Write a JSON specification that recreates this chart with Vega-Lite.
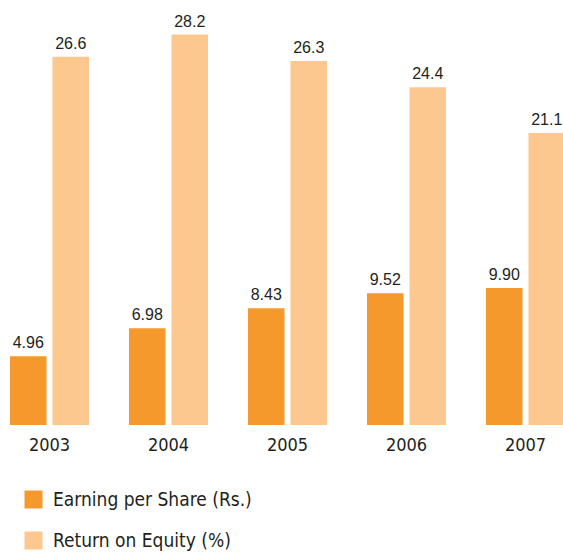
{
  "$schema": "https://vega.github.io/schema/vega-lite/v6.json",
  "width": 563,
  "height": 425,
  "autosize": {"type": "none"},
  "padding": {"top": 0, "left": 0, "right": 0, "bottom": 127},
  "background": "white",
  "config": {"view": {"stroke": null}},
  "data": {
    "values": [
      {"year": "2003", "series": "Earning per Share (Rs.)", "value": 4.96, "label": "4.96"},
      {"year": "2003", "series": "Return on Equity (%)", "value": 26.6, "label": "26.6"},
      {"year": "2004", "series": "Earning per Share (Rs.)", "value": 6.98, "label": "6.98"},
      {"year": "2004", "series": "Return on Equity (%)", "value": 28.2, "label": "28.2"},
      {"year": "2005", "series": "Earning per Share (Rs.)", "value": 8.43, "label": "8.43"},
      {"year": "2005", "series": "Return on Equity (%)", "value": 26.3, "label": "26.3"},
      {"year": "2006", "series": "Earning per Share (Rs.)", "value": 9.52, "label": "9.52"},
      {"year": "2006", "series": "Return on Equity (%)", "value": 24.4, "label": "24.4"},
      {"year": "2007", "series": "Earning per Share (Rs.)", "value": 9.90, "label": "9.90"},
      {"year": "2007", "series": "Return on Equity (%)", "value": 21.1, "label": "21.1"}
    ]
  },
  "encoding": {
    "x": {
      "field": "year", "type": "nominal", "title": null,
      "scale": {"range": [10, 565], "paddingInner": 0.336, "paddingOuter": 0},
      "axis": {
        "domain": false, "ticks": false, "labelAngle": 0,
        "labelFont": "Liberation Sans Narrow, DejaVu Sans Condensed, sans-serif",
        "labelFontSize": 18, "labelColor": "#231f20", "labelPadding": 11
      }
    },
    "xOffset": {"field": "series", "type": "nominal", "scale": {"paddingInner": 0.14}},
    "y": {
      "field": "value", "type": "quantitative",
      "scale": {"domain": [0, 30.7], "nice": false},
      "axis": null
    }
  },
  "layer": [
    {
      "mark": {"type": "bar"},
      "encoding": {
        "color": {
          "field": "series", "type": "nominal",
          "scale": {"domain": ["Earning per Share (Rs.)", "Return on Equity (%)"], "range": ["#f6992c", "#fdc88f"]},
          "legend": {
            "title": null, "orient": "none", "legendX": 24, "legendY": 490,
            "direction": "vertical", "symbolType": "square", "symbolSize": 324,
            "symbolStrokeWidth": 0, "symbolOpacity": 1, "padding": 0,
            "rowPadding": 21, "labelOffset": 10,
            "labelFont": "Liberation Sans Narrow, DejaVu Sans Condensed, sans-serif",
            "labelFontSize": 19, "labelColor": "#231f20", "labelLimit": 400
          }
        }
      }
    },
    {
      "mark": {"type": "text", "baseline": "bottom", "dy": -5, "font": "Liberation Sans, Arial, sans-serif", "fontSize": 16, "color": "#231f20"},
      "encoding": {
        "text": {"field": "label"}
      }
    }
  ]
}
